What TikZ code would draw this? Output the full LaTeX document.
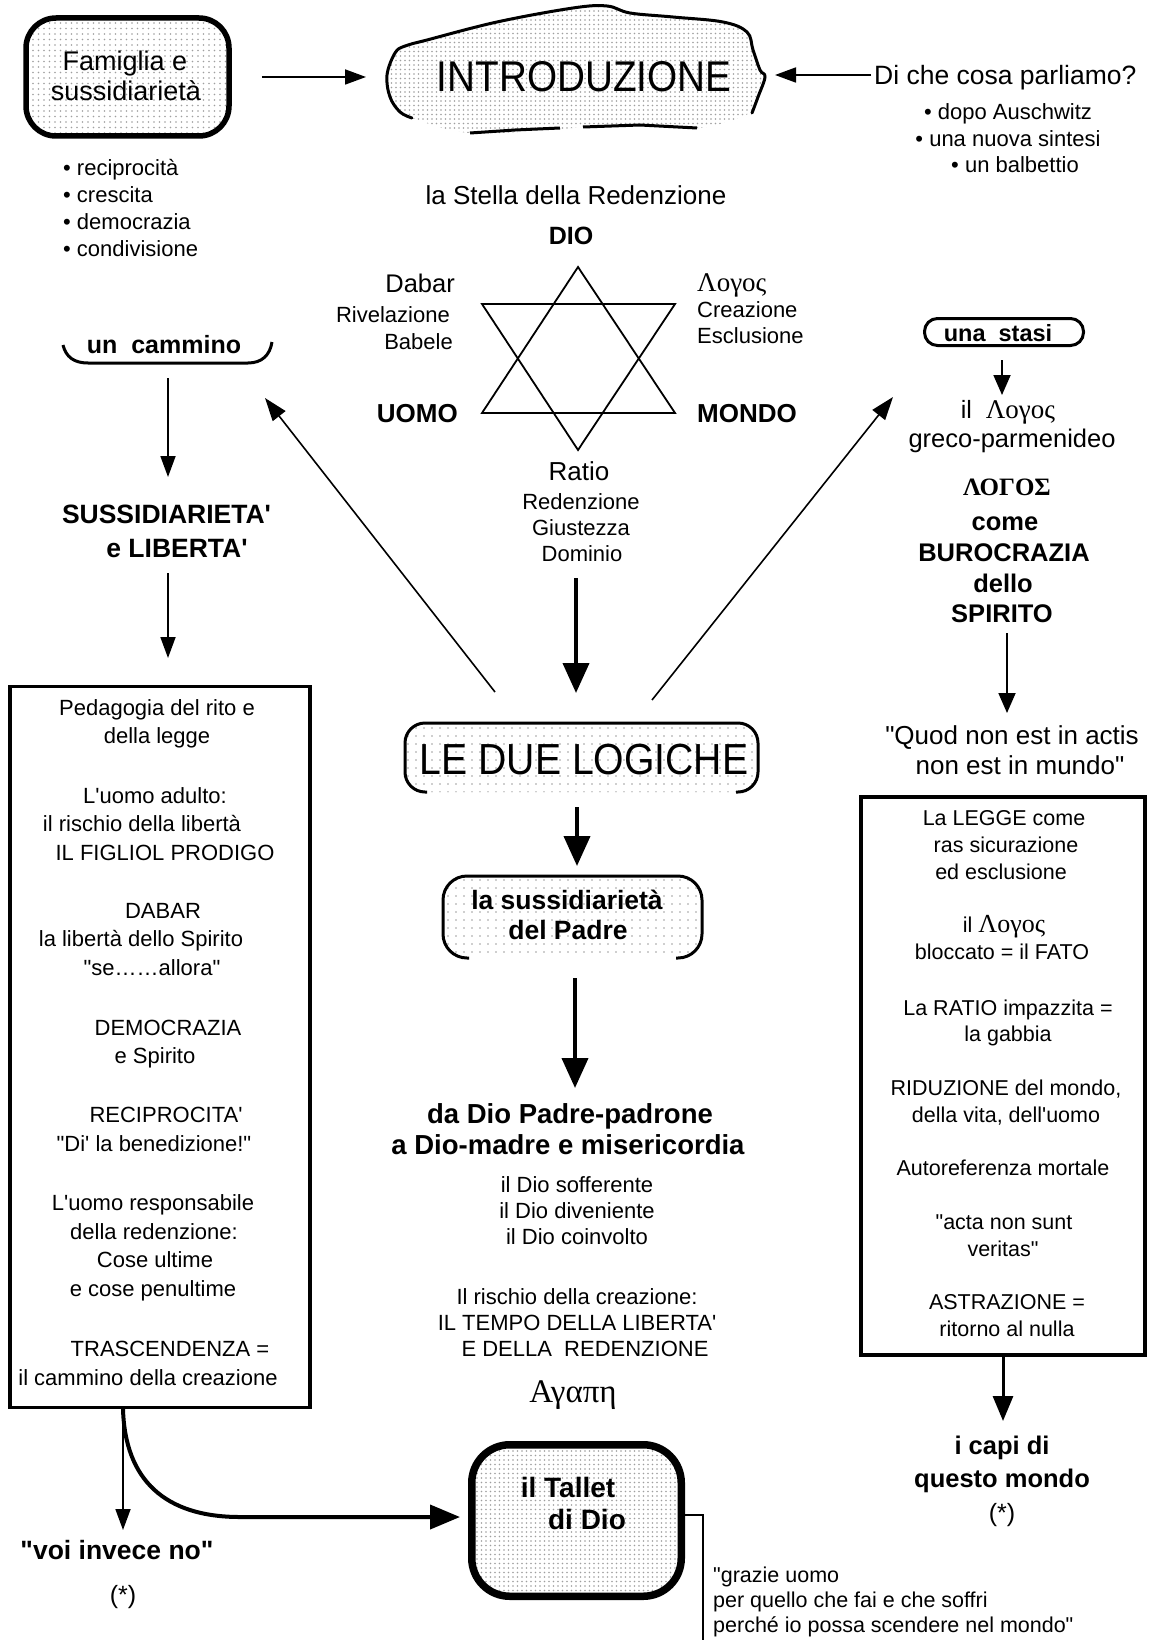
\documentclass[tikz,border=0pt]{standalone}
\usepackage{fontspec}
\setmainfont{Liberation Sans}[Ligatures=TeXOff]
\newfontfamily\grk{Liberation Serif}[Ligatures=TeXOff]
\newfontfamily\cnd{Liberation Sans}[FakeStretch=0.9, Ligatures=TeXOff]
\usetikzlibrary{arrows.meta,patterns.meta}
\tikzset{
 T/.style={inner sep=0pt, font=\fontsize{#1}{#1}\selectfont, text height={#1*0.72pt}, text depth=0pt},
 TB/.style={T=#1, font=\fontsize{#1}{#1}\selectfont\bfseries},
 TC/.style={T=#1, font=\fontsize{#1}{#1}\selectfont\cnd},
 TG/.style={inner sep=0pt, font=\fontsize{#1}{#1}\selectfont\grk, text height={#1*0.66pt}, text depth=0pt},
 arr/.style={line width=1.8pt, -{Triangle[length=21pt,width=15pt]}},
 arrT/.style={line width=4pt, -{Triangle[length=30pt,width=26pt]}},
 dotfill/.style={pattern={Dots[distance=#1, radius=0.9pt]}, pattern color=gray!75},
}
\newcommand{\lgs}[1]{{\grk\fontsize{#1}{#1}\selectfont Λογος}}
\begin{document}
\begin{tikzpicture}[x=1pt,y=-1pt]
\useasboundingbox (0,0) rectangle (1162,1640);
\fill[white] (0,0) rectangle (1162,1640);

% ---------- Famiglia e sussidiarieta
\node[draw, line width=5.5pt, rounded corners=30pt, minimum width=203pt, minimum height=118pt, inner sep=0pt, dotfill=5.5pt] (fam) at (127.5,77) {};
\node[T=27] (famA) at (125,61) {Famiglia e};
\node[T=27] (famB) at (126,91) {sussidiarietà};
\foreach \t/\y [count=\i] in {reciprocità/168, crescita/195, democrazia/222, condivisione/249}
  \node[T=22, anchor=west] (famb\i) at (63,\y) {• \t};

% ---------- INTRODUZIONE blob
\path[dotfill=4.5pt] plot[smooth cycle, tension=0.6] coordinates {(387,75)(395,53)(405,46)(427,40)(497,22)(573,8)(607,6)(630,13)(673,17)(723,22)(747,32)(753,50)(760,70)(765,77)(758,97)(750,113)(700,128)(640,126)(583,127)(560,129)(470,133)(412,118)(398,110)(390,95)};
\draw[line width=3pt, line cap=round] plot[smooth, tension=0.6] coordinates {(412,118)(400,112)(390,97)(387,75)(395,53)(405,46)(427,40)(497,22)(573,8)(607,6)(630,13)(673,17)(723,22)(747,32)(753,50)(760,70)(765,77)(758,97)(752,113)};
\draw[line width=3pt] (697,128) -- (640,125) -- (583,127);
\draw[line width=3pt] (560,128) -- (515,130) -- (470,133);
\node[TC=43] (intro) at (584,76) {INTRODUZIONE};

\coordinate (introL) at (366,77);
\coordinate (introR) at (775,75);
\draw[arr] ([xshift=30pt]fam.east) -- (introL);

% ---------- Di che cosa parliamo
\node[T=26.5, anchor=west] (dcc) at (874,75) {Di che cosa parliamo?};
\node[T=22] (dcc1) at (1008,112) {• dopo Auschwitz};
\node[T=22] (dcc2) at (1008,139) {• una nuova sintesi};
\node[T=22] (dcc3) at (1015,165) {• un balbettio};
\draw[arr] ([xshift=-3pt]dcc.west) -- (introR);

% ---------- Stella
\node[T=26] (stella) at (576,195) {la Stella della Redenzione};
\node[TB=25] (dio) at (571,235) {DIO};
\coordinate (sA) at (578,267);
\coordinate (sB) at (482,413);
\coordinate (sC) at (675,413);
\coordinate (sD) at (482,304);
\coordinate (sE) at (675,304);
\coordinate (sF) at (578,450);
\draw[line width=1.8pt, line join=miter] (sA) -- (sB) -- (sC) -- cycle;
\draw[line width=1.8pt, line join=miter] (sD) -- (sE) -- (sF) -- cycle;
\node[T=25.5, anchor=east] (dabar) at (455,283.5) {Dabar};
\node[T=22, anchor=east] (rivel) at (450,315) {Rivelazione};
\node[T=22, anchor=east] (babele) at (453,341.5) {Babele};
\node[TG=27, anchor=west] (logos1) at (697,283) {Λογος};
\node[T=22, anchor=west] (creaz) at (697,310) {Creazione};
\node[T=22, anchor=west] (esclus) at (697,336) {Esclusione};
\node[TB=26, anchor=east] (uomo) at (458,413) {UOMO};
\node[TB=26, anchor=west] (mondo) at (697,413) {MONDO};
\node[T=26] (ratio) at (579,471) {Ratio};
\node[T=22] (reden) at (581,502) {Redenzione};
\node[T=22] (giust) at (581,528) {Giustezza};
\node[T=22] (domin) at (582,554) {Dominio};

% ---------- LE DUE LOGICHE
\node[rounded corners=20pt, minimum width=353pt, minimum height=69pt, inner sep=0pt, dotfill=8pt] (logic) at (581.5,757.5) {};
\draw[line width=3pt, rounded corners=20pt] (427,792) -- (405,792) -- (405,723) -- (758,723) -- (758,792) -- (736,792);
\node[TC=43.5] (logicT) at (584,759) {LE DUE LOGICHE};
\coordinate (dominBot) at (576,578);
\coordinate (logicIn) at (576,693);
\draw[arrT] (dominBot) -- (logicIn);

% diagonal arrows
\coordinate (logicL) at (495,692);
\coordinate (logicR) at (652,700);
\coordinate (camTip) at (265,398);
\coordinate (staTip) at (893,397);
\draw[line width=1.6pt, -{Triangle[length=23pt,width=16pt]}] (logicL) -- (camTip);
\draw[line width=1.6pt, -{Triangle[length=23pt,width=16pt]}] (logicR) -- (staTip);

% ---------- sussidiarieta del Padre
\node[rounded corners=24pt, minimum width=259pt, minimum height=82pt, inner sep=0pt, dotfill=8pt] (padre) at (572.5,917) {};
\draw[line width=3pt, rounded corners=24pt] (469,958) -- (443,958) -- (443,876) -- (702,876) -- (702,958) -- (676,958);
\node[TB=26.5] (padreA) at (567,900) {la sussidiarietà};
\node[TB=26.5] (padreB) at (568,930) {del Padre};
\coordinate (logicOut) at (577,807);
\coordinate (padreIn) at (577,866);
\draw[arrT] (logicOut) -- (padreIn);

% ---------- da Dio Padre-padrone
\node[TB=27.5] (dadio1) at (570,1114) {da Dio Padre-padrone};
\node[TB=27.5] (dadio2) at (568,1145) {a Dio-madre e misericordia};
\coordinate (padreOut) at (575,978);
\coordinate (dadioIn) at (575,1088);
\draw[arrT] (padreOut) -- (dadioIn);
\node[T=22] (dio1) at (577,1185) {il Dio sofferente};
\node[T=22] (dio2) at (577,1211) {il Dio diveniente};
\node[T=22] (dio3) at (577,1237) {il Dio coinvolto};
\node[T=22] (risk1) at (577,1297) {Il rischio della creazione:};
\node[T=22] (risk2) at (577,1323) {IL TEMPO DELLA LIBERTA'};
\node[T=22] (risk3) at (585,1349) {E DELLA\ \ REDENZIONE};
\node[TG=33] (agape) at (573,1392) {Αγαπη};

% ---------- left column
\draw[line width=3pt] (63,345) .. controls (66,357) and (74,363) .. (88,363) -- (248,363) .. controls (262,363) and (270,355) .. (272,342);
\node[TB=25] (cammino) at (164,344) {un\ \ cammino};
\node[TB=26.5] (suss1) at (166.5,514) {SUSSIDIARIETA'};
\node[TB=26.5] (suss2) at (177,547.5) {e LIBERTA'};
\coordinate (camBot) at (168,378);
\coordinate (sussTop) at (168,477);
\coordinate (sussBot) at (168,573);
\coordinate (lboxTop) at (168,658);
\draw[arr] (camBot) -- (sussTop);
\draw[arr] (sussBot) -- (lboxTop);

\node[draw, line width=3.5pt, minimum width=300pt, minimum height=721pt, inner sep=0pt] (lbox) at (160,1047) {};
\foreach \x/\y/\t [count=\i] in {
 157/708/{Pedagogia del rito e},
 157/736/{della legge},
 155/796/{L'uomo adulto:},
 142/824/{il rischio della libertà},
 165/853/{IL FIGLIOL PRODIGO},
 163/911/{DABAR},
 141/939/{la libertà dello Spirito},
 152/968/{"se……allora"},
 168/1028/{DEMOCRAZIA},
 155/1056/{e Spirito},
 166/1115/{RECIPROCITA'},
 154/1144/{"Di' la benedizione!"},
 153/1203/{L'uomo responsabile},
 154/1232/{della redenzione:},
 155/1260/{Cose ultime},
 153/1289/{e cose penultime},
 170/1349/{TRASCENDENZA =},
 148/1378/{il cammino della creazione}}
  \node[T=22] (lb\i) at (\x,\y) {\t};

% bottom left
\coordinate (lboxOut) at (123,1409);
\coordinate (voiIn) at (123,1530);
\node[TB=26.5] (voi) at (117,1550) {"voi invece no"};
\node[T=25] (voiS) at (123,1594) {(*)};
\draw[arr] (lboxOut) -- (voiIn);

% ---------- Tallet
\node[draw, line width=7.5pt, rounded corners=38pt, minimum width=209.5pt, minimum height=151.5pt, inner sep=0pt, dotfill=4.5pt] (tallet) at (576.5,1520.5) {};
\node[TB=28] (talletA) at (568,1487) {il Tallet};
\node[TB=28] (talletB) at (587,1519) {di Dio};
\coordinate (talletIn) at (460,1517);
\draw[line width=4pt, -{Triangle[length=30pt,width=24pt]}] (lboxOut) .. controls (125,1480) and (165,1517) .. (240,1517) -- (talletIn);

\coordinate (grazieTop) at (703,1515);
\coordinate (grazieBot) at (703,1640);
\draw[line width=1.5pt] (tallet.east |- grazieTop) -- (grazieTop) -- (grazieBot);
\node[T=21.5, anchor=west] (gr1) at (713,1575) {"grazie uomo};
\node[T=21.5, anchor=west] (gr2) at (713,1600) {per quello che fai e che soffri};
\node[T=21.5, anchor=west] (gr3) at (713,1625) {perché io possa scendere nel mondo"};

% ---------- right column
\node[draw, line width=3pt, rounded corners=13pt, minimum width=159pt, minimum height=27pt, inner sep=0pt] (stasi) at (1004,332) {};
\node[TB=23.5] (stasiT) at (998,333) {una\ \ stasi};
\coordinate (stasiBot) at (1002,360);
\coordinate (logos2Top) at (1002,395);
\draw[arr, -{Triangle[length=20pt,width=17pt]}] (stasiBot) -- (logos2Top);
\node[T=25] (logos2) at (1008,409) {il\ \ \lgs{27}};
\node[T=25.5] (greco) at (1012,438) {greco-parmenideo};
\node[TG=25, font=\fontsize{25}{25}\selectfont\grk\bfseries] (LOGOS) at (1007,487.5) {ΛΟΓΟΣ};
\node[TB=25.5] (come) at (1005,521) {come};
\node[TB=25.5] (buro) at (1004,552) {BUROCRAZIA};
\node[TB=25.5] (dello) at (1003,583) {dello};
\node[TB=25.5] (spirito) at (1002,613.5) {SPIRITO};
\coordinate (spiBot) at (1007,633);
\coordinate (quodTop) at (1007,713);
\draw[arr, -{Triangle[length=20pt,width=17pt]}] (spiBot) -- (quodTop);
\node[T=26] (quod1) at (1012,735) {"Quod non est in actis};
\node[T=26] (quod2) at (1020,765) {non est in mundo"};

\node[draw, line width=4pt, minimum width=284pt, minimum height=558pt, inner sep=0pt] (rbox) at (1003,1076) {};
\foreach \x/\y/\t [count=\i] in {
 1004/818/{La LEGGE come},
 1006/845/{ras sicurazione},
 1001/872/{ed esclusione},
 1004/925/{il \lgs{26}},
 1002/952/{bloccato = il FATO},
 1008/1008/{La RATIO impazzita =},
 1008/1034/{la gabbia},
 1006/1088/{RIDUZIONE del mondo,},
 1006/1115/{della vita, dell'uomo},
 1003/1168/{Autoreferenza mortale},
 1004/1222/{"acta non sunt},
 1003/1249/{veritas"},
 1007/1302/{ASTRAZIONE =},
 1007/1329/{ritorno al nulla}}
  \node[T=21.5] (rb\i) at (\x,\y) {\t};

\coordinate (capiTop) at (1003,1421);
\draw[line width=3pt, -{Triangle[length=25pt,width=20pt]}] (rbox.south -| capiTop) -- (capiTop);
\node[TB=25.5] (capi1) at (1002,1445) {i capi di};
\node[TB=25.5] (capi2) at (1002,1478) {questo mondo};
\node[T=25] (capi3) at (1002,1512) {(*)};

\end{tikzpicture}
\end{document}
